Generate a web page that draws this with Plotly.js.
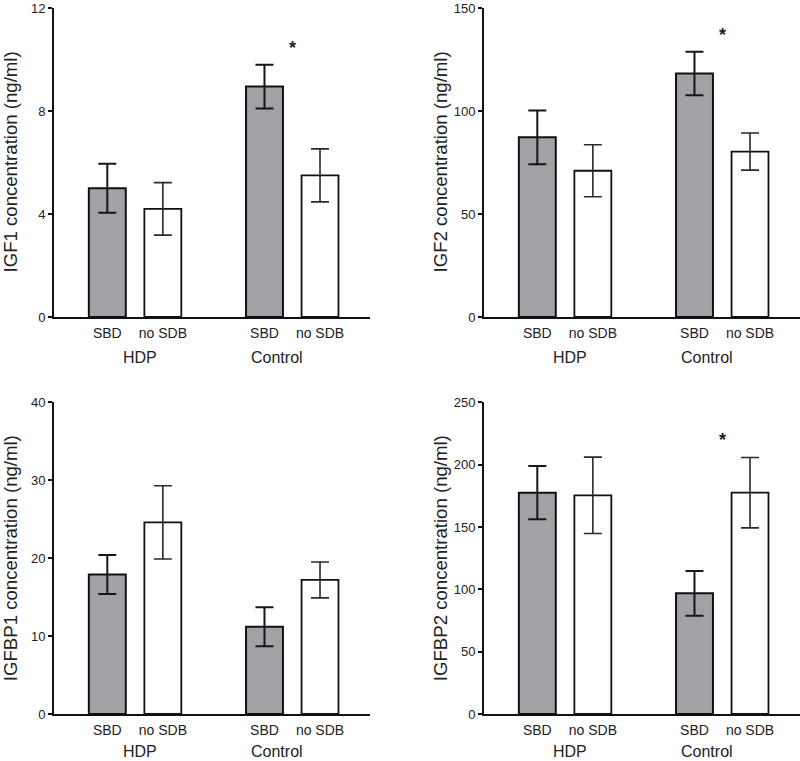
<!DOCTYPE html>
<html>
<head>
<meta charset="utf-8">
<script src="https://cdn.plot.ly/plotly-3.0.1.min.js"></script>
<style>html,body{margin:0;padding:0;background:#fff;}#chart{width:800px;height:761px;}</style>
</head>
<body>
<div id="chart"></div>
<script>
// ---- data ----
const groups = ["HDP", "Control"];
const conditions = ["SBD", "no SDB"];
const yTitles = ["IGF1 concentration (ng/ml)", "IGF2 concentration (ng/ml)",
                 "IGFBP1 concentration (ng/ml)", "IGFBP2 concentration (ng/ml)"];
const igf1_SBD = [5.0, 8.95];
const igf1_SBD_err = [0.95, 0.85];
const igf1_noSDB = [4.2, 5.5];
const igf1_noSDB_err = [1.02, 1.03];
const igf2_SBD = [87.2, 118.2];
const igf2_SBD_err = [13.0, 10.6];
const igf2_noSDB = [71.0, 80.3];
const igf2_noSDB_err = [12.6, 9.0];
const igfbp1_SBD = [17.9, 11.2];
const igfbp1_SBD_err = [2.5, 2.5];
const igfbp1_noSDB = [24.6, 17.2];
const igfbp1_noSDB_err = [4.7, 2.3];
const igfbp2_SBD = [177.5, 96.8];
const igfbp2_SBD_err = [21.4, 17.9];
const igfbp2_noSDB = [175.4, 177.5];
const igfbp2_noSDB_err = [30.6, 28.2];
const yMax = [12, 150, 40, 250];
const yStep = [4, 50, 10, 50];
const starY = [10.6, 139, null, 223];   // significance marker above Control group

// ---- layout helpers ----
const FONT = "Liberation Sans, Arial, Helvetica, sans-serif";
const GROUP_GAP = 2.83;
const pos = (g, i) => 1 + g * GROUP_GAP + i;
const BAR_W = 0.665;
const panels = [
  {sbd: igf1_SBD, sbdErr: igf1_SBD_err, no: igf1_noSDB, noErr: igf1_noSDB_err},
  {sbd: igf2_SBD, sbdErr: igf2_SBD_err, no: igf2_noSDB, noErr: igf2_noSDB_err},
  {sbd: igfbp1_SBD, sbdErr: igfbp1_SBD_err, no: igfbp1_noSDB, noErr: igfbp1_noSDB_err},
  {sbd: igfbp2_SBD, sbdErr: igfbp2_SBD_err, no: igfbp2_noSDB, noErr: igfbp2_noSDB_err}
];
const H = 761, W = 800;
const xDom = [[54 / W, 370 / W], [484 / W, 1.0], [54 / W, 370 / W], [484 / W, 1.0]];
const yDom = [[(H - 317) / H, (H - 8) / H], [(H - 317) / H, (H - 8) / H],
              [(H - 714) / H, (H - 402.3) / H], [(H - 714) / H, (H - 402.3) / H]];
const titleX = [10, 440, 10, 440];
const groupLabelY = [-0.131, -0.131, -0.121, -0.121];

const traces = [];
const annotations = [];
const layout = {
  width: W, height: H,
  margin: {l: 0, r: 0, t: 0, b: 0},
  paper_bgcolor: "#fff", plot_bgcolor: "#fff",
  showlegend: false, barmode: "overlay",
  font: {family: FONT, color: "#222"}
};

panels.forEach((p, k) => {
  const n = k + 1;
  const xa = n === 1 ? "x" : "x" + n;
  const ya = n === 1 ? "y" : "y" + n;
  const sbdX = groups.map((g, gi) => pos(gi, 0));
  const noX = groups.map((g, gi) => pos(gi, 1));
  traces.push({
    type: "bar", x: sbdX, y: p.sbd, width: BAR_W, xaxis: xa, yaxis: ya,
    marker: {color: "#a2a2a6", line: {color: "#111", width: 2}},
    error_y: {type: "data", array: p.sbdErr, visible: true, color: "#161616", thickness: 2, width: 9},
    hoverinfo: "skip"
  });
  traces.push({
    type: "bar", x: noX, y: p.no, width: BAR_W, xaxis: xa, yaxis: ya,
    marker: {color: "#ffffff", line: {color: "#111", width: 1.8}},
    error_y: {type: "data", array: p.noErr, visible: true, color: "#2a2a2a", thickness: 1.6, width: 9},
    hoverinfo: "skip"
  });
  const tv = [], tt = [];
  groups.forEach((g, gi) => conditions.forEach((c, ci) => { tv.push(pos(gi, ci)); tt.push(c); }));
  layout["xaxis" + (n === 1 ? "" : n)] = {
    domain: xDom[k], anchor: ya, range: [0.04, 5.73],
    showline: true, linecolor: "#111", linewidth: 2,
    showgrid: false, zeroline: false, ticks: "",
    tickmode: "array", tickvals: tv, ticktext: tt,
    tickfont: {family: FONT, size: 14, color: "#222"}, ticklabelstandoff: 2,
    fixedrange: true
  };
  layout["yaxis" + (n === 1 ? "" : n)] = {
    domain: yDom[k], anchor: xa, range: [0, yMax[k]],
    showline: true, linecolor: "#111", linewidth: 2,
    showgrid: false, zeroline: false,
    ticks: "outside", ticklen: 4, tickwidth: 2, tickcolor: "#111",
    tickmode: "linear", tick0: 0, dtick: yStep[k],
    tickfont: {family: FONT, size: 13, color: "#222"}, ticklabelstandoff: 0,
    ticklabeloverflow: "allow",
    fixedrange: true
  };
  groups.forEach((g, gi) => {
    annotations.push({
      text: g, xref: xa, yref: ya + " domain",
      x: gi === 0 ? pos(gi, 0.585) : pos(gi, 0.22), y: groupLabelY[k],
      xanchor: "center", yanchor: "middle", showarrow: false,
      font: {family: FONT, size: 16, color: "#222"}
    });
  });
  annotations.push({
    text: yTitles[k], xref: "paper", yref: ya + " domain",
    x: titleX[k] / W, y: 0.5, textangle: -90,
    xanchor: "center", yanchor: "middle", showarrow: false,
    font: {family: FONT, size: 18.6, color: "#222"}
  });
  if (starY[k] !== null) {
    annotations.push({
      text: "<b>*</b>", xref: xa, yref: ya,
      x: (pos(1, 0) + pos(1, 1)) / 2, y: starY[k], yshift: -4,
      xanchor: "center", yanchor: "middle", showarrow: false,
      font: {family: FONT, size: 18, color: "#222"}
    });
  }
});
layout.annotations = annotations;

Plotly.newPlot("chart", traces, layout, {staticPlot: true, displayModeBar: false});
</script>
</body>
</html>
